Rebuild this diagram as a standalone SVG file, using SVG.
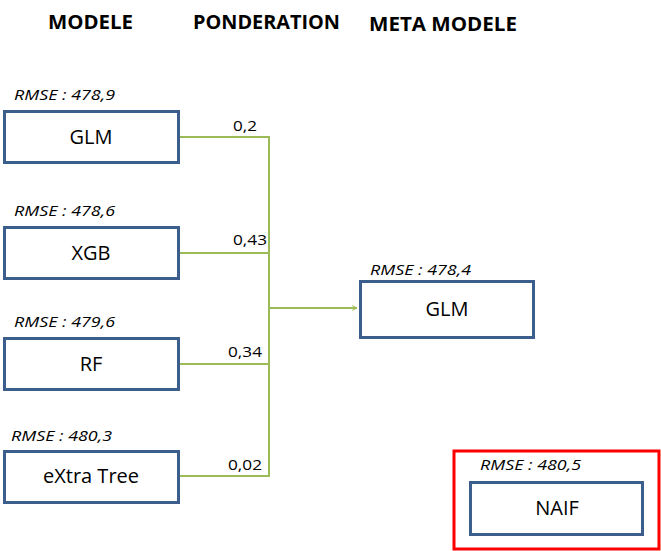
<svg xmlns="http://www.w3.org/2000/svg" width="661" height="551" viewBox="0 0 661 551">
<style>
.h{font-family:"Open Sans","Liberation Sans",sans-serif;font-weight:bold;font-size:19px;fill:#000}
.r{font-family:"Open Sans","Liberation Sans",sans-serif;font-style:italic;font-size:14.5px;fill:#000}
.w{font-family:"Open Sans","Liberation Sans",sans-serif;font-size:15px;fill:#000}
.l{font-family:"Open Sans","Liberation Sans",sans-serif;font-size:20px;fill:#000;text-anchor:middle}
.b{fill:#fff;stroke:#3b5e8c;stroke-width:3}
.c{fill:none;stroke:#9bbb59;stroke-width:2}
</style>
<defs>
<marker id="a" viewBox="0 0 10 10" refX="9" refY="5" markerWidth="6" markerHeight="6" orient="auto" markerUnits="userSpaceOnUse">
<path d="M1,1 L9,5 L1,9" fill="none" stroke="#9bbb59" stroke-width="1.6"/>
</marker>
</defs>
<rect width="661" height="551" fill="#fff"/>
<text class="h" x="48" y="29" textLength="85" lengthAdjust="spacingAndGlyphs">MODELE</text>
<text class="h" x="193" y="29" textLength="147" lengthAdjust="spacingAndGlyphs">PONDERATION</text>
<text class="h" x="369" y="31" textLength="148" lengthAdjust="spacingAndGlyphs">META MODELE</text>
<g id="connectors">
<path class="c" d="M179,137 H269 V476 H179"/>
<path class="c" d="M179,253 H269"/>
<path class="c" d="M179,364 H269"/>
<path class="c" d="M269,308 H357" marker-end="url(#a)"/>
<text class="w" x="233" y="131" textLength="24" lengthAdjust="spacingAndGlyphs">0,2</text>
<text class="w" x="233" y="245" textLength="34" lengthAdjust="spacingAndGlyphs">0,43</text>
<text class="w" x="228" y="357" textLength="34" lengthAdjust="spacingAndGlyphs">0,34</text>
<text class="w" x="228" y="470" textLength="34" lengthAdjust="spacingAndGlyphs">0,02</text>
</g>
<g id="glm">
<text class="r" x="14" y="100" textLength="101" lengthAdjust="spacingAndGlyphs">RMSE : 478,9</text>
<rect class="b" x="4.5" y="111.5" width="174" height="51"/>
<text class="l" x="91" y="144">GLM</text>
</g>
<g id="xgb">
<text class="r" x="14" y="216" textLength="101" lengthAdjust="spacingAndGlyphs">RMSE : 478,6</text>
<rect class="b" x="4.5" y="227.5" width="174" height="51"/>
<text class="l" x="91" y="260">XGB</text>
</g>
<g id="rf">
<text class="r" x="14" y="327" textLength="101" lengthAdjust="spacingAndGlyphs">RMSE : 479,6</text>
<rect class="b" x="4.5" y="338.5" width="174" height="51"/>
<text class="l" x="91" y="371">RF</text>
</g>
<g id="extratree">
<text class="r" x="11" y="441" textLength="101" lengthAdjust="spacingAndGlyphs">RMSE : 480,3</text>
<rect class="b" x="4.5" y="451.5" width="174" height="51"/>
<text class="l" x="91" y="483">eXtra Tree</text>
</g>
<g id="meta-glm">
<text class="r" x="370" y="275" textLength="101" lengthAdjust="spacingAndGlyphs">RMSE : 478,4</text>
<rect class="b" x="360.5" y="281.5" width="173" height="56"/>
<text class="l" x="447" y="316">GLM</text>
</g>
<g id="naif">
<rect x="454" y="451" width="205" height="98" fill="none" stroke="#ff0000" stroke-width="3"/>
<text class="r" x="480" y="470" textLength="101" lengthAdjust="spacingAndGlyphs">RMSE : 480,5</text>
<rect class="b" x="470.5" y="482.5" width="172" height="52"/>
<text class="l" x="557" y="515">NAIF</text>
</g>
</svg>
